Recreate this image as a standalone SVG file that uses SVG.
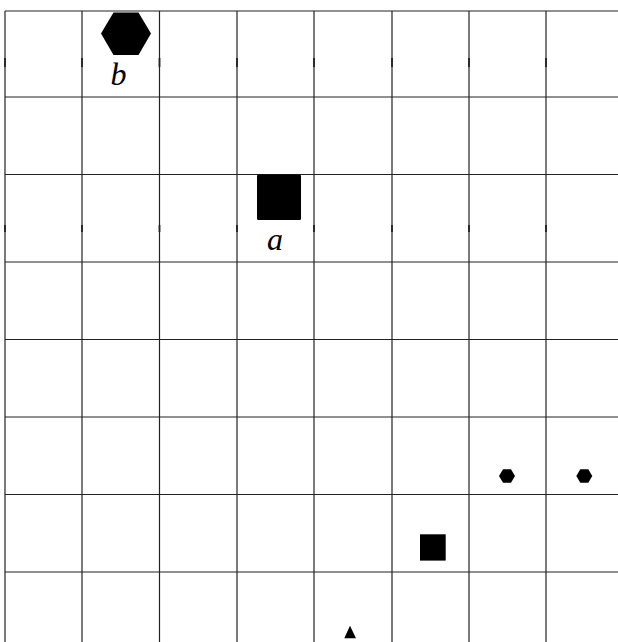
<svg xmlns="http://www.w3.org/2000/svg" width="618" height="642" viewBox="0 0 618 642">
<style>
.grid line{stroke:#222;stroke-width:1.2}
.tick line{stroke:#222;stroke-width:1.8}
.lbl{font-family:"Liberation Serif","DejaVu Serif",serif;font-style:italic;font-size:32px;fill:#000;text-anchor:middle}
.shape{fill:#000}
</style>
<rect width="618" height="642" fill="#fff"/>
<g id="grid" class="grid">
<line x1="5" y1="11" x2="618" y2="11"/>
<line x1="5" y1="97" x2="618" y2="97"/>
<line x1="5" y1="174.5" x2="618" y2="174.5"/>
<line x1="5" y1="262" x2="618" y2="262"/>
<line x1="5" y1="339.5" x2="618" y2="339.5"/>
<line x1="5" y1="417" x2="618" y2="417"/>
<line x1="5" y1="494.5" x2="618" y2="494.5"/>
<line x1="5" y1="572" x2="618" y2="572"/>
<line x1="5" y1="11" x2="5" y2="642"/>
<line x1="82" y1="11" x2="82" y2="642"/>
<line x1="159.5" y1="11" x2="159.5" y2="642"/>
<line x1="237" y1="11" x2="237" y2="642"/>
<line x1="314" y1="11" x2="314" y2="642"/>
<line x1="392" y1="11" x2="392" y2="642"/>
<line x1="469" y1="11" x2="469" y2="642"/>
<line x1="546" y1="11" x2="546" y2="642"/>
</g>
<g id="ticks" class="tick">
<line x1="5" y1="58" x2="5" y2="67"/><line x1="82" y1="58" x2="82" y2="67"/><line x1="159.5" y1="58" x2="159.5" y2="67"/><line x1="237" y1="58" x2="237" y2="67"/><line x1="314" y1="58" x2="314" y2="67"/><line x1="392" y1="58" x2="392" y2="67"/><line x1="469" y1="58" x2="469" y2="67"/><line x1="546" y1="58" x2="546" y2="67"/>
<line x1="5" y1="225" x2="5" y2="232"/><line x1="82" y1="225" x2="82" y2="232"/><line x1="159.5" y1="225" x2="159.5" y2="232"/><line x1="237" y1="225" x2="237" y2="232"/><line x1="314" y1="225" x2="314" y2="232"/><line x1="392" y1="225" x2="392" y2="232"/><line x1="469" y1="225" x2="469" y2="232"/><line x1="546" y1="225" x2="546" y2="232"/>
</g>
<g id="node-b">
<polygon class="shape" points="101,33.5 113.5,12.5 138.5,12.5 151,33.5 138.5,55 113.5,55"/>
<text class="lbl" x="118.5" y="85">b</text>
</g>
<g id="node-a">
<rect class="shape" x="257" y="174.5" width="44" height="45.5" rx="1.5"/>
<text class="lbl" x="275" y="250">a</text>
</g>
<g id="node-h1">
<polygon class="shape" points="499,476 503,469.2 511,469.2 515,476 511,482.8 503,482.8"/>
</g>
<g id="node-h2">
<polygon class="shape" points="576.3,476 580.3,469.2 588.3,469.2 592.3,476 588.3,482.8 580.3,482.8"/>
</g>
<g id="node-s">
<rect class="shape" x="420" y="534.3" width="25.7" height="26.3"/>
</g>
<g id="node-t">
<polygon class="shape" points="350,625.7 356,638.3 344.3,638.3"/>
</g>
<g id="connectors"></g>
</svg>
